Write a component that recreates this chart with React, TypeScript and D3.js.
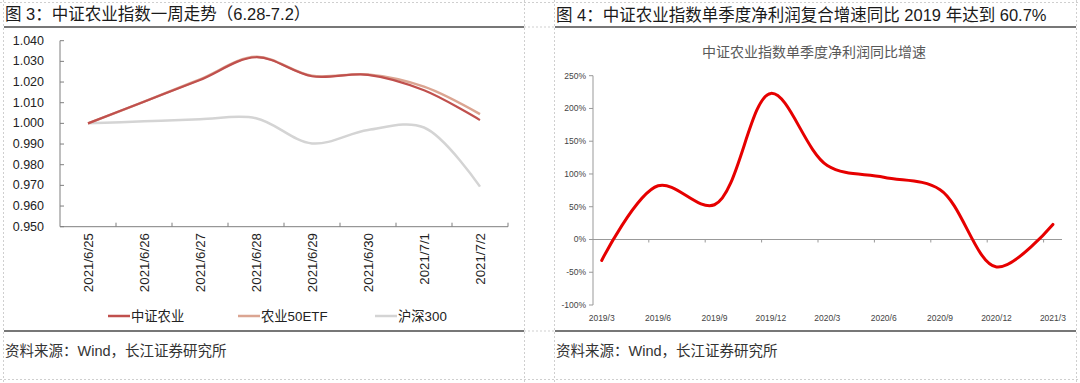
import React from "react";
import * as d3 from "d3";

// ---------- Left chart data ----------
const dates = ["2021/6/25", "2021/6/26", "2021/6/27", "2021/6/28", "2021/6/29", "2021/6/30", "2021/7/1", "2021/7/2"];
const zzny = [1.0, 1.0105, 1.021, 1.032, 1.0228, 1.0235, 1.016, 1.0016];
const ny50etf = [1.0, 1.0105, 1.0213, 1.0322, 1.023, 1.0237, 1.0178, 1.0045];
const hs300 = [1.0, 1.001, 1.002, 1.0025, 0.9903, 0.9968, 0.998, 0.9694];
const leftTicks = [0.95, 0.96, 0.97, 0.98, 0.99, 1.0, 1.01, 1.02, 1.03, 1.04];
const seriesNames = ["中证农业", "农业50ETF", "沪深300"];
const seriesColors = ["#c0504d", "#dba592", "#d4d4d4"];

// ---------- Right chart data ----------
const quarters = ["2019/3", "2019/6", "2019/9", "2019/12", "2020/3", "2020/6", "2020/9", "2020/12", "2021/3"];
const growth = [-32, 82, 53, 223, 113, 95, 76, -42, 23];
const rightTicks = [-100, -50, 0, 50, 100, 150, 200, 250];

const LATIN = "'Liberation Sans', Arial, 'Noto Sans CJK SC', sans-serif";
const CJK = "'Liberation Sans', 'Noto Sans CJK SC', sans-serif";

export default function App() {
  // left scales
  const xL = d3.scaleBand<string>().domain(dates).range([60, 508]).padding(0);
  const xLc = (d: string) => (xL(d) as number) + xL.bandwidth() / 2;
  const yL = d3.scaleLinear().domain([0.95, 1.04]).range([226.7, 40.7]);
  const lineL = d3
    .line<number>()
    .x((_, i) => xLc(dates[i]))
    .y((v) => yL(v))
    .curve(d3.curveCatmullRom.alpha(0.5));
  const leftSeries = [zzny, ny50etf, hs300];

  // right scales
  const xR = d3.scalePoint<string>().domain(quarters).range([601.7, 1052.9]);
  const yR = d3.scaleLinear().domain([-100, 250]).range([305, 75.7]);
  const lineR = d3
    .line<number>()
    .x((_, i) => xR(quarters[i]) as number)
    .y((v) => yR(v))
    .curve(d3.curveCatmullRom.alpha(0.5));

  const axisGray = "#7f7f7f";
  const dot = "#cfcfcf";

  return (
    <svg
      width={1080}
      height={383}
      style={{ position: "absolute", left: 0, top: 0, background: "#fff" }}
    >
      <rect x={0} y={0} width={1080} height={383} fill="#fff" />
      {/* panel dotted borders */}
      <g stroke={dot} strokeWidth={1} strokeDasharray="2,2" fill="none">
        <line x1={0} x2={1080} y1={2.5} y2={2.5} />
        <line x1={0} x2={1080} y1={379.5} y2={379.5} />
        <line x1={3.5} x2={3.5} y1={0} y2={383} />
        <line x1={524.5} x2={524.5} y1={0} y2={383} />
        <line x1={554.5} x2={554.5} y1={0} y2={383} />
        <line x1={1076.5} x2={1076.5} y1={0} y2={383} />
        <line x1={524} x2={554} y1={27} y2={27} />
        <line x1={524} x2={554} y1={331} y2={331} />
      </g>
      {/* separators */}
      <g stroke="#777" strokeWidth={2}>
        <line x1={4} x2={524} y1={27} y2={27} />
        <line x1={555} x2={1076} y1={27} y2={27} />
        <line x1={4} x2={524} y1={331} y2={331} />
        <line x1={555} x2={1076} y1={331} y2={331} />
      </g>
      {/* titles */}
      <text x={5} y={20} fontSize={16.5} fontFamily={CJK} fill="#1a1a1a">
        图 3：中证农业指数一周走势（6.28-7.2）
      </text>
      <text x={556} y={21} fontSize={16.5} fontFamily={CJK} fill="#1a1a1a">
        图 4：中证农业指数单季度净利润复合增速同比 2019 年达到 60.7%
      </text>
      {/* footers */}
      <text x={5} y={356} fontSize={14.5} fontFamily={CJK} fill="#333">
        资料来源：Wind，长江证券研究所
      </text>
      <text x={556} y={356} fontSize={14.5} fontFamily={CJK} fill="#333">
        资料来源：Wind，长江证券研究所
      </text>

      {/* ---------- LEFT CHART ---------- */}
      <g>
        {/* y axis */}
        <line x1={60} x2={60} y1={yL(1.04)} y2={yL(0.95)} stroke={axisGray} strokeWidth={1} />
        {leftTicks.map((t) => (
          <g key={t}>
            <line x1={60} x2={64} y1={yL(t)} y2={yL(t)} stroke={axisGray} />
            <text
              x={44}
              y={yL(t)}
              textAnchor="end"
              dominantBaseline="central"
              fontSize={12.5}
              fontFamily={LATIN}
              fill="#222"
            >
              {t.toFixed(3)}
            </text>
          </g>
        ))}
        {/* x axis */}
        <line x1={60} x2={508} y1={yL(0.95)} y2={yL(0.95)} stroke={axisGray} />
        {dates.map((d) => (
          <line
            key={"t" + d}
            x1={(xL(d) as number) + xL.bandwidth()}
            x2={(xL(d) as number) + xL.bandwidth()}
            y1={yL(0.95)}
            y2={yL(0.95) - 4}
            stroke={axisGray}
          />
        ))}
        {dates.map((d) => (
          <text
            key={"l" + d}
            transform={`translate(${xLc(d)},${233}) rotate(-90)`}
            textAnchor="end"
            dominantBaseline="central"
            fontSize={13.3}
            fontFamily={LATIN}
            fill="#222"
          >
            {d}
          </text>
        ))}
        {/* lines: draw gray first, then etf, then red */}
        {[2, 1, 0].map((si) => (
          <path
            key={si}
            d={lineL(leftSeries[si]) || ""}
            fill="none"
            stroke={seriesColors[si]}
            strokeWidth={si === 0 ? 2.2 : 2.5}
          />
        ))}
        {/* legend */}
        {seriesNames.map((n, i) => {
          const lx = [108, 238, 375][i];
          return (
            <g key={n}>
              <line x1={lx} x2={lx + 22} y1={316} y2={316} stroke={seriesColors[i]} strokeWidth={2.5} />
              <text
                x={lx + 23}
                y={316}
                dominantBaseline="central"
                fontSize={13.3}
                fontFamily={CJK}
                fill="#222"
              >
                {n}
              </text>
            </g>
          );
        })}
      </g>

      {/* ---------- RIGHT CHART ---------- */}
      <g>
        <text
          x={814}
          y={52}
          textAnchor="middle"
          dominantBaseline="central"
          fontSize={14}
          fontFamily={CJK}
          fill="#595959"
        >
          中证农业指数单季度净利润同比增速
        </text>
        <line x1={593} x2={593} y1={yR(250)} y2={yR(-100)} stroke="#999" />
        {rightTicks.map((t) => (
          <g key={t}>
            <line x1={589} x2={593} y1={yR(t)} y2={yR(t)} stroke="#999" />
            <text
              x={586}
              y={yR(t)}
              textAnchor="end"
              dominantBaseline="central"
              fontSize={8.5}
              fontFamily={LATIN}
              fill="#444"
            >
              {t + "%"}
            </text>
          </g>
        ))}
        <line x1={593} x2={1062} y1={yR(0)} y2={yR(0)} stroke="#999" strokeWidth={1.2} />
        {quarters.slice(1).map((q) => (
          <line
            key={"rt" + q}
            x1={(xR(q) as number) - 9.3}
            x2={(xR(q) as number) - 9.3}
            y1={yR(0)}
            y2={yR(0) + 3}
            stroke="#999"
          />
        ))}
        {quarters.map((q) => (
          <text
            key={"rl" + q}
            x={xR(q) as number}
            y={318}
            textAnchor="middle"
            dominantBaseline="central"
            fontSize={8.5}
            fontFamily={LATIN}
            fill="#444"
          >
            {q}
          </text>
        ))}
        <path d={lineR(growth) || ""} fill="none" stroke="#e60000" strokeWidth={3} strokeLinecap="round" />
      </g>
    </svg>
  );
}
